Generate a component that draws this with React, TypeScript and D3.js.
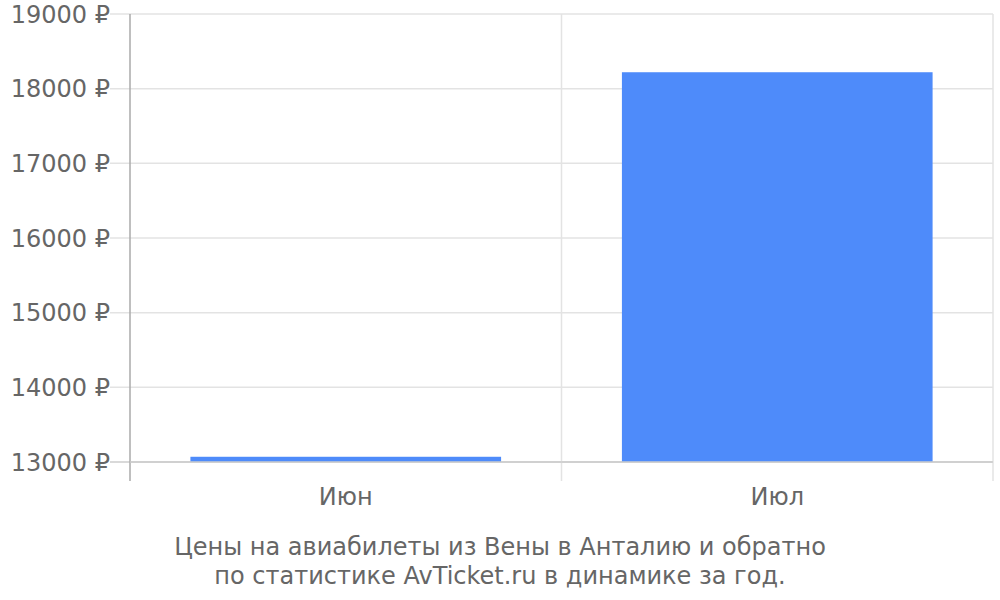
import React from "react";
import * as d3 from "d3";

const categories = ["Июн", "Июл"];
const values = [13070, 18220];
const yTicks = [13000, 14000, 15000, 16000, 17000, 18000, 19000];
const titleLines = [
  "Цены на авиабилеты из Вены в Анталию и обратно",
  "по статистике AvTicket.ru в динамике за год.",
];

const W = 1000;
const H = 600;
const left = 130;
const right = 993;
const top = 14;
const bottom = 462;
const font = "DejaVu Sans";
const textColor = "#666";

export default function App() {
  const x = d3
    .scaleBand<string>()
    .domain(categories)
    .range([left, right])
    .paddingInner(0.28)
    .paddingOuter(0.14);
  const step = (right - left) / categories.length;
  const y = d3.scaleLinear().domain([13000, 19000]).range([bottom, top]);

  return (
    <svg
      width={W}
      height={H}
      style={{ position: "absolute", left: 0, top: 0, background: "#fff" }}
    >
      {yTicks.map((t) => (
        <g key={t}>
          <line
            x1={110}
            x2={right}
            y1={y(t)}
            y2={y(t)}
            stroke={t === 13000 ? "#ccc" : "#e3e3e3"}
            strokeWidth={1.5}
          />
          <text
            x={110}
            y={y(t)}
            dy="0.36em"
            textAnchor="end"
            fontFamily={font}
            fontSize={24}
            fill={textColor}
          >
            {t} ₽
          </text>
        </g>
      ))}
      {categories.map((c, i) => (
        <line
          key={"v" + c}
          x1={left + step * (i + 1)}
          x2={left + step * (i + 1)}
          y1={top}
          y2={481}
          stroke="#e3e3e3"
          strokeWidth={1.5}
        />
      ))}
      <line x1={left} x2={left} y1={top} y2={481} stroke="#aaa" strokeWidth={1.5} />
      {categories.map((c, i) => (
        <rect
          key={c}
          x={x(c)}
          y={y(values[i])}
          width={x.bandwidth()}
          height={bottom - y(values[i])}
          fill="#4e8bfa"
        />
      ))}
      <line x1={left} x2={right} y1={bottom} y2={bottom} stroke="#ccc" strokeWidth={1.5} />
      {categories.map((c) => (
        <text
          key={"l" + c}
          x={(x(c) as number) + x.bandwidth() / 2}
          y={505}
          textAnchor="middle"
          fontFamily={font}
          fontSize={24}
          fill={textColor}
        >
          {c}
        </text>
      ))}
      {titleLines.map((l, i) => (
        <text
          key={i}
          x={500}
          y={555 + i * 29}
          textAnchor="middle"
          fontFamily={font}
          fontSize={24}
          fill={textColor}
        >
          {l}
        </text>
      ))}
    </svg>
  );
}
